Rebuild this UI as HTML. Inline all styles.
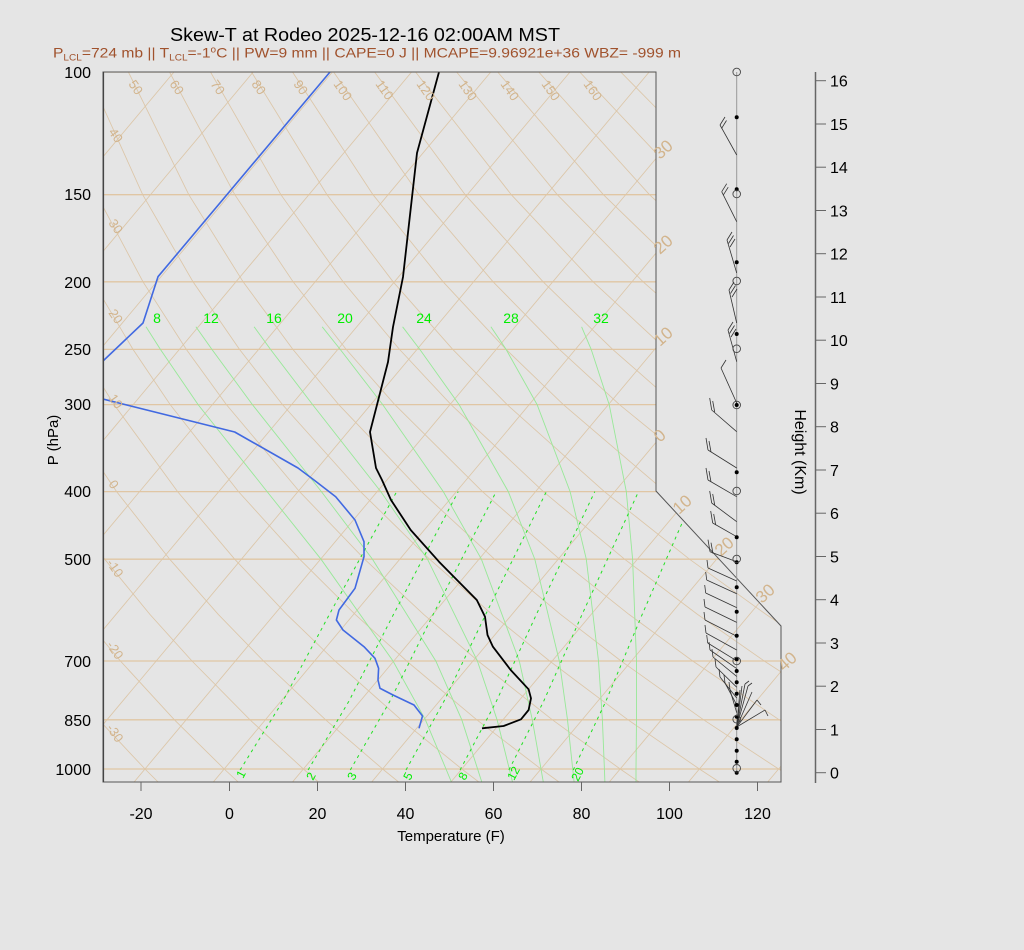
<!DOCTYPE html>
<html><head><meta charset="utf-8">
<style>
html,body{margin:0;padding:0;background:#e5e5e5;}
svg{display:block;font-family:"Liberation Sans",sans-serif;}
</style></head>
<body>
<svg width="1024" height="950" viewBox="0 0 1024 950" xmlns="http://www.w3.org/2000/svg">
<rect x="0" y="0" width="1024" height="950" fill="#e5e5e5"/>
<defs>
<clipPath id="cp"><polygon points="103,72 656,72 656,491 781,626 781,782 103,782"/></clipPath>
</defs>
<g clip-path="url(#cp)">
<g stroke="#dcc6a8" stroke-width="0.85">
<line x1="15.6" y1="72" x2="-578.7" y2="782"/>
<line x1="94.8" y1="72" x2="-499.5" y2="782"/>
<line x1="174" y1="72" x2="-420.3" y2="782"/>
<line x1="253.2" y1="72" x2="-341.1" y2="782"/>
<line x1="332.4" y1="72" x2="-261.9" y2="782"/>
<line x1="411.6" y1="72" x2="-182.7" y2="782"/>
<line x1="490.8" y1="72" x2="-103.5" y2="782"/>
<line x1="570" y1="72" x2="-24.3" y2="782"/>
<line x1="649.2" y1="72" x2="54.9" y2="782"/>
<line x1="728.4" y1="72" x2="134.1" y2="782"/>
<line x1="807.6" y1="72" x2="213.3" y2="782"/>
<line x1="886.8" y1="72" x2="292.5" y2="782"/>
<line x1="966" y1="72" x2="371.7" y2="782"/>
<line x1="1045.2" y1="72" x2="450.9" y2="782"/>
<line x1="1124.4" y1="72" x2="530.1" y2="782"/>
<line x1="1203.6" y1="72" x2="609.3" y2="782"/>
<line x1="1282.8" y1="72" x2="688.5" y2="782"/>
<line x1="1362" y1="72" x2="767.7" y2="782"/>
<line x1="1441.2" y1="72" x2="846.9" y2="782"/>
</g>
<g fill="none" stroke="#dcc6a8" stroke-width="0.85">
<polyline points="-240.8,72 -225.9,194.7 -207,281.8 -186.8,349.4 -166.7,404.6 -127.2,491.6 -90.2,559.2 -55.5,614.4 -22.6,661 23.2,719.8 65.8,769 78,782"/>
<polyline points="-199.8,72 -179.8,194.7 -157,281.8 -133.5,349.4 -110.5,404.6 -66.3,491.6 -25.2,559.2 13,614.4 48.9,661 98.8,719.8 145,769 158.1,782"/>
<polyline points="-158.8,72 -133.7,194.7 -107,281.8 -80.2,349.4 -54.4,404.6 -5.3,491.6 39.7,559.2 81.4,614.4 120.4,661 174.4,719.8 224.2,769 238.2,782"/>
<polyline points="-117.7,72 -87.7,194.7 -57,281.8 -26.9,349.4 1.8,404.6 55.6,491.6 104.7,559.2 149.9,614.4 192,661 250,719.8 303.4,769 318.4,782"/>
<polyline points="-76.7,72 -41.6,194.7 -7,281.8 26.4,349.4 57.9,404.6 116.6,491.6 169.7,559.2 218.3,614.4 263.5,661 325.6,719.8 382.6,769 398.6,782"/>
<polyline points="-35.7,72 4.5,194.7 43,281.8 79.7,349.4 114.1,404.6 177.6,491.6 234.7,559.2 286.8,614.4 335,661 401.2,719.8 461.8,769 478.8,782"/>
<polyline points="5.4,72 50.5,194.7 93,281.8 133,349.4 170.2,404.6 238.5,491.6 299.7,559.2 355.2,614.4 406.6,661 476.8,719.8 541,769 559,782"/>
<polyline points="46.4,72 96.6,194.7 143,281.8 186.3,349.4 226.4,404.6 299.5,491.6 364.6,559.2 423.7,614.4 478.1,661 552.4,719.8 620.2,769 639.1,782"/>
<polyline points="87.4,72 142.7,194.7 193,281.8 239.5,349.4 282.5,404.6 360.4,491.6 429.6,559.2 492.1,614.4 549.6,661 628,719.8 699.4,769 719.3,782"/>
<polyline points="128.4,72 188.8,194.7 243.1,281.8 292.9,349.4 338.7,404.6 421.4,491.6 494.6,559.2 560.6,614.4 621.1,661 703.6,719.8 778.6,769 799.5,782"/>
<polyline points="169.5,72 234.8,194.7 293.1,281.8 346.2,349.4 394.8,404.6 482.4,491.6 559.6,559.2 629,614.4 692.7,661 779.2,719.8 857.8,769"/>
<polyline points="210.5,72 280.9,194.7 343.1,281.8 399.5,349.4 451,404.6 543.3,491.6 624.6,559.2 697.5,614.4 764.2,661 854.8,719.8"/>
<polyline points="251.5,72 327,194.7 393.1,281.8 452.8,349.4 507.1,404.6 604.3,491.6 689.5,559.2 766,614.4 835.7,661"/>
<polyline points="292.5,72 373,194.7 443.1,281.8 506.1,349.4 563.3,404.6 665.2,491.6 754.5,559.2 834.4,614.4"/>
<polyline points="333.6,72 419.1,194.7 493.1,281.8 559.4,349.4 619.4,404.6 726.2,491.6 819.5,559.2"/>
<polyline points="374.6,72 465.2,194.7 543.1,281.8 612.7,349.4 675.6,404.6 787.2,491.6"/>
<polyline points="415.6,72 511.3,194.7 593.1,281.8 666,349.4 731.7,404.6 848.1,491.6"/>
<polyline points="456.6,72 557.3,194.7 643.1,281.8 719.3,349.4 787.9,404.6"/>
<polyline points="497.7,72 603.4,194.7 693.1,281.8 772.6,349.4"/>
<polyline points="538.7,72 649.5,194.7 743.1,281.8 825.9,349.4"/>
<polyline points="579.7,72 695.5,194.7 793.1,281.8"/>
<polyline points="620.7,72 741.6,194.7 843.1,281.8"/>
</g>
<g stroke="#e0c6a4" stroke-width="1.3">
<line x1="103" y1="72" x2="790" y2="72"/>
<line x1="103" y1="194.7" x2="790" y2="194.7"/>
<line x1="103" y1="281.8" x2="790" y2="281.8"/>
<line x1="103" y1="349.4" x2="790" y2="349.4"/>
<line x1="103" y1="404.6" x2="790" y2="404.6"/>
<line x1="103" y1="491.6" x2="790" y2="491.6"/>
<line x1="103" y1="559.2" x2="790" y2="559.2"/>
<line x1="103" y1="661" x2="790" y2="661"/>
<line x1="103" y1="719.8" x2="790" y2="719.8"/>
<line x1="103" y1="769" x2="790" y2="769"/>
</g>
<g fill="none" stroke="#98e898" stroke-width="0.9">
<polyline points="146,326.8 160.4,349.4 198.1,404.6 267.1,491.6 321,559.2 393,661 425.4,719.8 446,769 451.4,782"/>
<polyline points="195.9,326.8 211.9,349.4 252.4,404.6 321.4,491.6 372.5,559.2 435.8,661 461.8,719.8 477.6,769 481.8,782"/>
<polyline points="254.1,326.8 270.5,349.4 312.6,404.6 380.8,491.6 427.5,559.2 477.4,661 497.1,719.8 509.3,769 512.5,782"/>
<polyline points="322.2,326.8 340.2,349.4 382.7,404.6 443.3,491.6 481.4,559.2 519.3,661 532.3,719.8 541,769 543.3,782"/>
<polyline points="402.6,326.8 419.8,349.4 459.1,404.6 508.3,491.6 534.8,559.2 559.3,661 567.5,719.8 572.7,769 574.1,782"/>
<polyline points="490.9,326.8 506.1,349.4 537.1,404.6 570.1,491.6 586.3,559.2 598.5,661 602.4,719.8 604.4,769 604.9,782"/>
<polyline points="581.6,326.8 591.2,349.4 609.2,404.6 626.3,491.6 632.6,559.2 636.5,661 636.5,719.8 636,769 636,782"/>
</g>
<g fill="none" stroke="#22e022" stroke-width="1" stroke-dasharray="3,4">
<polyline points="240.1,770 282.7,701.4 329.4,614.4 396.7,491.6"/>
<polyline points="308.1,770 348.8,701.4 393.5,614.4 458.2,491.6"/>
<polyline points="350.3,770 389.8,701.4 433.2,614.4 496.2,491.6"/>
<polyline points="406,770 443.9,701.4 485.7,614.4 546.4,491.6"/>
<polyline points="460.1,770 496.3,701.4 536.4,614.4 594.8,491.6"/>
<polyline points="508.9,770 543.6,701.4 582.1,614.4 638.5,491.6"/>
<polyline points="573.2,770 605.8,701.4 642.2,614.4 695.8,491.6"/>
</g>
<g fill="none" stroke-linejoin="round">
<polyline stroke="#4169e1" stroke-width="1.6" points="330,72 158,276.7 143,323 103,361"/>
<polyline stroke="#4169e1" stroke-width="1.6" points="103,399 234.7,432 298,468 314,480 335.7,496.7 355,520 364,541.7 364,556.7 355,588.3 339,610 336.4,620 343,630 364,646.7 375,658.3 378.6,668.3 378,680 380,688.3 393,695 414,705 422.5,716 419,728.3"/>
<polyline stroke="#000" stroke-width="1.8" points="439,72 417,153 403,277 393,327 388,362 370,432 376,468 382,480 391,500 410.7,530 439,561.7 457,580 476.8,600 485,616.7 487.5,635 492.9,646.7 510.7,670 528.6,689.3 531,698.3 528.6,710 521,719.3 503.6,726 482,728.3"/>
</g>
</g>
<polygon points="103,72 656,72 656,491 781,626 781,782 103,782" fill="none" stroke="#555" stroke-width="1"/>
<line x1="103.5" y1="72" x2="103.5" y2="782" stroke="#444" stroke-width="1.2"/>

<text x="170" y="41" font-size="18" fill="#000" textLength="390" lengthAdjust="spacingAndGlyphs">Skew-T at Rodeo 2025-12-16 02:00AM MST</text>
<text x="53" y="57.5" font-size="14" fill="#a0522d" textLength="628" lengthAdjust="spacingAndGlyphs">P<tspan font-size="9" dy="3">LCL</tspan><tspan dy="-3">=724 mb || T</tspan><tspan font-size="9" dy="3">LCL</tspan><tspan dy="-3">=-1</tspan><tspan font-size="9" dy="-5">o</tspan><tspan dy="5">C || PW=9 mm || CAPE=0 J || MCAPE=9.96921e+36 WBZ= -999 m</tspan></text>

<g font-size="16" fill="#000" text-anchor="end">
<text x="91" y="78">100</text>
<text x="91" y="200">150</text>
<text x="91" y="288">200</text>
<text x="91" y="355">250</text>
<text x="91" y="410">300</text>
<text x="91" y="497">400</text>
<text x="91" y="565">500</text>
<text x="91" y="667">700</text>
<text x="91" y="726">850</text>
<text x="91" y="775">1000</text>
</g>
<text transform="translate(58,440) rotate(-90)" font-size="15" text-anchor="middle" fill="#000">P (hPa)</text>

<g stroke="#666" stroke-width="1">
<line x1="141" y1="782" x2="141" y2="791"/><line x1="229.5" y1="782" x2="229.5" y2="791"/>
<line x1="317.5" y1="782" x2="317.5" y2="791"/><line x1="405.5" y1="782" x2="405.5" y2="791"/>
<line x1="493.5" y1="782" x2="493.5" y2="791"/><line x1="581.5" y1="782" x2="581.5" y2="791"/>
<line x1="669.5" y1="782" x2="669.5" y2="791"/><line x1="757.5" y1="782" x2="757.5" y2="791"/>
</g>
<g font-size="16" fill="#000" text-anchor="middle">
<text x="141" y="819">-20</text><text x="229.5" y="819">0</text><text x="317.5" y="819">20</text>
<text x="405.5" y="819">40</text><text x="493.5" y="819">60</text><text x="581.5" y="819">80</text>
<text x="669.5" y="819">100</text><text x="757.5" y="819">120</text>
</g>
<text x="451" y="841" font-size="15" text-anchor="middle" fill="#000">Temperature (F)</text>

<line x1="815.5" y1="72" x2="815.5" y2="783" stroke="#666" stroke-width="1.5"/>
<g stroke="#666" stroke-width="1">
<line x1="815.5" y1="772.7" x2="826" y2="772.7"/><line x1="815.5" y1="729.5" x2="826" y2="729.5"/>
<line x1="815.5" y1="686.2" x2="826" y2="686.2"/><line x1="815.5" y1="643" x2="826" y2="643"/>
<line x1="815.5" y1="599.7" x2="826" y2="599.7"/><line x1="815.5" y1="556.5" x2="826" y2="556.5"/>
<line x1="815.5" y1="513.2" x2="826" y2="513.2"/><line x1="815.5" y1="470" x2="826" y2="470"/>
<line x1="815.5" y1="426.7" x2="826" y2="426.7"/><line x1="815.5" y1="383.5" x2="826" y2="383.5"/>
<line x1="815.5" y1="340.2" x2="826" y2="340.2"/><line x1="815.5" y1="297" x2="826" y2="297"/>
<line x1="815.5" y1="253.7" x2="826" y2="253.7"/><line x1="815.5" y1="210.5" x2="826" y2="210.5"/>
<line x1="815.5" y1="167.2" x2="826" y2="167.2"/><line x1="815.5" y1="124" x2="826" y2="124"/>
<line x1="815.5" y1="80.7" x2="826" y2="80.7"/>
</g>
<g font-size="16" fill="#000">
<text x="830" y="778.7">0</text><text x="830" y="735.5">1</text><text x="830" y="692.2">2</text>
<text x="830" y="649">3</text><text x="830" y="605.7">4</text><text x="830" y="562.5">5</text>
<text x="830" y="519.2">6</text><text x="830" y="476">7</text><text x="830" y="432.7">8</text>
<text x="830" y="389.5">9</text><text x="830" y="346.2">10</text><text x="830" y="303">11</text>
<text x="830" y="259.7">12</text><text x="830" y="216.5">13</text><text x="830" y="173.2">14</text>
<text x="830" y="130">15</text><text x="830" y="86.7">16</text>
</g>
<text transform="translate(795,452) rotate(90)" font-size="16" text-anchor="middle" fill="#000">Height (Km)</text>

<g font-size="13" fill="#d2b48c">
<text transform="translate(128,84) rotate(55)">50</text>
<text transform="translate(169,84) rotate(55)">60</text>
<text transform="translate(210,84) rotate(55)">70</text>
<text transform="translate(251,84) rotate(55)">80</text>
<text transform="translate(293,84) rotate(55)">90</text>
<text transform="translate(333,84) rotate(55)">100</text>
<text transform="translate(375,84) rotate(55)">110</text>
<text transform="translate(416,84) rotate(55)">120</text>
<text transform="translate(458,84) rotate(55)">130</text>
<text transform="translate(500,84) rotate(55)">140</text>
<text transform="translate(541,84) rotate(55)">150</text>
<text transform="translate(583,84) rotate(55)">160</text>
<text transform="translate(108,132) rotate(55)">40</text>
<text transform="translate(108,223) rotate(55)">30</text>
<text transform="translate(108,313) rotate(55)">20</text>
<text transform="translate(108,398) rotate(55)">10</text>
<text transform="translate(108,484) rotate(55)">0</text>
<text transform="translate(106,563) rotate(55)">-10</text>
<text transform="translate(106,645) rotate(55)">-20</text>
<text transform="translate(106,728) rotate(55)">-30</text>
</g>
<g font-size="17" fill="#d2b48c">
<text transform="translate(660,160) rotate(-42)">30</text>
<text transform="translate(660,255) rotate(-42)">20</text>
<text transform="translate(660,347) rotate(-42)">10</text>
<text transform="translate(660,443) rotate(-42)">0</text>
<text transform="translate(679,515) rotate(-42)">10</text>
<text transform="translate(721,557) rotate(-42)">20</text>
<text transform="translate(762,604) rotate(-42)">30</text>
<text transform="translate(784,672) rotate(-42)">40</text>
</g>
<g font-size="14" fill="#00ee00" text-anchor="middle">
<text x="157" y="323">8</text><text x="211" y="323">12</text><text x="274" y="323">16</text>
<text x="345" y="323">20</text><text x="424" y="323">24</text><text x="511" y="323">28</text>
<text x="601" y="323">32</text>
</g>
<g font-size="12" fill="#00ee00">
<text transform="translate(243,779) rotate(-62)">1</text>
<text transform="translate(313,781) rotate(-62)">2</text>
<text transform="translate(354,781) rotate(-62)">3</text>
<text transform="translate(410,781) rotate(-62)">5</text>
<text transform="translate(465,781) rotate(-62)">8</text>
<text transform="translate(514,781) rotate(-62)">12</text>
<text transform="translate(578,782) rotate(-62)">20</text>
</g>

<line x1="736.7" y1="72" x2="736.7" y2="773" stroke="#999" stroke-width="1"/>
<g stroke="#333" stroke-width="0.8" fill="none">
<line x1="736.7" y1="155" x2="720" y2="125"/><line x1="720" y1="125" x2="725" y2="117"/><line x1="721.5" y1="128.5" x2="726.5" y2="120.5"/>
<line x1="736.7" y1="221.7" x2="721.7" y2="191.7"/><line x1="721.7" y1="191.7" x2="726.7" y2="183.7"/><line x1="723.2" y1="195.2" x2="728.2" y2="187.2"/>
<line x1="736.7" y1="273" x2="727" y2="240"/><line x1="727" y1="240" x2="732" y2="232"/><line x1="728.5" y1="243.5" x2="733.5" y2="235.5"/><line x1="730" y1="247" x2="735" y2="239"/>
<line x1="736.7" y1="323" x2="729" y2="290"/><line x1="729" y1="290" x2="734" y2="282"/><line x1="730.5" y1="293.5" x2="735.5" y2="285.5"/><line x1="732" y1="297" x2="737" y2="289"/>
<line x1="736.7" y1="361.7" x2="728" y2="330"/><line x1="728" y1="330" x2="733" y2="322"/><line x1="729.5" y1="333.5" x2="734.5" y2="325.5"/><line x1="731" y1="337" x2="736" y2="329"/>
<line x1="736.7" y1="403" x2="721" y2="368"/><line x1="721" y1="368" x2="726" y2="360"/>
<line x1="736.7" y1="431.7" x2="711.7" y2="410"/><line x1="711.7" y1="410" x2="709.7" y2="398"/><line x1="714.7" y1="412" x2="712.7" y2="401"/>
<line x1="736.7" y1="468" x2="708" y2="450"/><line x1="708" y1="450" x2="706" y2="438"/><line x1="711" y1="452" x2="709" y2="441"/>
<line x1="736.7" y1="496.7" x2="708" y2="480"/><line x1="708" y1="480" x2="706" y2="468"/><line x1="711" y1="482" x2="709" y2="471"/>
<line x1="736.7" y1="521.7" x2="711.7" y2="503"/><line x1="711.7" y1="503" x2="709.7" y2="491"/><line x1="714.7" y1="505" x2="712.7" y2="494"/>
<line x1="736.7" y1="536.7" x2="712.7" y2="523"/><line x1="712.7" y1="523" x2="710.7" y2="511"/><line x1="715.7" y1="525" x2="713.7" y2="514"/>
<line x1="736.7" y1="561.7" x2="710" y2="551.7"/><line x1="710" y1="551.7" x2="708" y2="539.7"/><line x1="713" y1="553.7" x2="711" y2="542.7"/>
<line x1="736.7" y1="581" x2="708" y2="568"/><line x1="708" y1="568" x2="707" y2="560"/>
<line x1="736.7" y1="593.8" x2="706.7" y2="580"/><line x1="706.7" y1="580" x2="705.7" y2="572"/>
<line x1="736.7" y1="607.6" x2="705.7" y2="593"/><line x1="705.7" y1="593" x2="704.7" y2="585"/>
<line x1="736.7" y1="622.4" x2="705" y2="607"/><line x1="705" y1="607" x2="704" y2="599"/>
<line x1="736.7" y1="636.2" x2="705" y2="620"/><line x1="705" y1="620" x2="704" y2="612"/>
<line x1="736.7" y1="650" x2="706" y2="633"/><line x1="706" y1="633" x2="705" y2="625"/>
<line x1="736.7" y1="660.8" x2="707.7" y2="643"/><line x1="707.7" y1="643" x2="706.7" y2="635"/>
<line x1="736.7" y1="668.6" x2="710" y2="650"/><line x1="710" y1="650" x2="709" y2="642"/>
<line x1="736.7" y1="676.4" x2="713" y2="657"/><line x1="713" y1="657" x2="712" y2="649"/>
<line x1="736.7" y1="687.2" x2="716" y2="667"/><line x1="716" y1="667" x2="715" y2="659"/>
<line x1="736.7" y1="698" x2="720" y2="677"/><line x1="720" y1="677" x2="719" y2="669"/>
<line x1="736.7" y1="704.8" x2="725" y2="683"/><line x1="725" y1="683" x2="724" y2="675"/>
<line x1="736.7" y1="712.6" x2="730" y2="690"/><line x1="730" y1="690" x2="729" y2="682"/>
<line x1="736.7" y1="727" x2="765" y2="710"/><line x1="736.7" y1="727" x2="757" y2="700"/>
<line x1="736.7" y1="727" x2="752" y2="692"/><line x1="736.7" y1="727" x2="748" y2="686"/>
<line x1="736.7" y1="727" x2="745" y2="684"/><line x1="736.7" y1="727" x2="742" y2="686"/>
<line x1="736.7" y1="727" x2="740" y2="690"/>
<line x1="765" y1="710" x2="768" y2="716"/><line x1="757" y1="700" x2="761" y2="705"/><line x1="748" y1="686" x2="752" y2="683"/><line x1="745" y1="684" x2="749" y2="681"/>
</g>
<g fill="#000">
<circle cx="736.7" cy="117.3" r="2"/><circle cx="736.7" cy="189.3" r="2"/><circle cx="736.7" cy="262.3" r="2"/>
<circle cx="736.7" cy="334" r="2"/><circle cx="736.7" cy="405" r="2"/><circle cx="736.7" cy="472.3" r="2"/>
<circle cx="736.7" cy="537.3" r="2"/><circle cx="736.7" cy="562.3" r="2"/><circle cx="736.7" cy="587.3" r="2"/>
<circle cx="736.7" cy="611.7" r="2"/><circle cx="736.7" cy="635.7" r="2"/><circle cx="736.7" cy="659.3" r="2"/>
<circle cx="736.7" cy="671" r="2"/><circle cx="736.7" cy="682.3" r="2"/><circle cx="736.7" cy="693.7" r="2"/>
<circle cx="736.7" cy="705" r="2"/><circle cx="736.7" cy="716.7" r="2"/><circle cx="736.7" cy="728" r="2"/>
<circle cx="736.7" cy="739.3" r="2"/><circle cx="736.7" cy="750.7" r="2"/><circle cx="736.7" cy="761.7" r="2"/>
<circle cx="736.7" cy="772.7" r="2"/>
</g>
<g fill="none" stroke="#444" stroke-width="0.9">
<circle cx="736.7" cy="72" r="3.8"/><circle cx="736.7" cy="194" r="3.8"/><circle cx="736.7" cy="281" r="3.8"/>
<circle cx="736.7" cy="348.7" r="3.8"/><circle cx="736.7" cy="405" r="3.8"/><circle cx="736.7" cy="491" r="3.8"/>
<circle cx="736.7" cy="559" r="3.8"/><circle cx="736.7" cy="661" r="3.8"/><circle cx="736.7" cy="719.3" r="3.8"/>
<circle cx="736.7" cy="768.3" r="3.8"/>
</g>
</svg>
</body></html>
